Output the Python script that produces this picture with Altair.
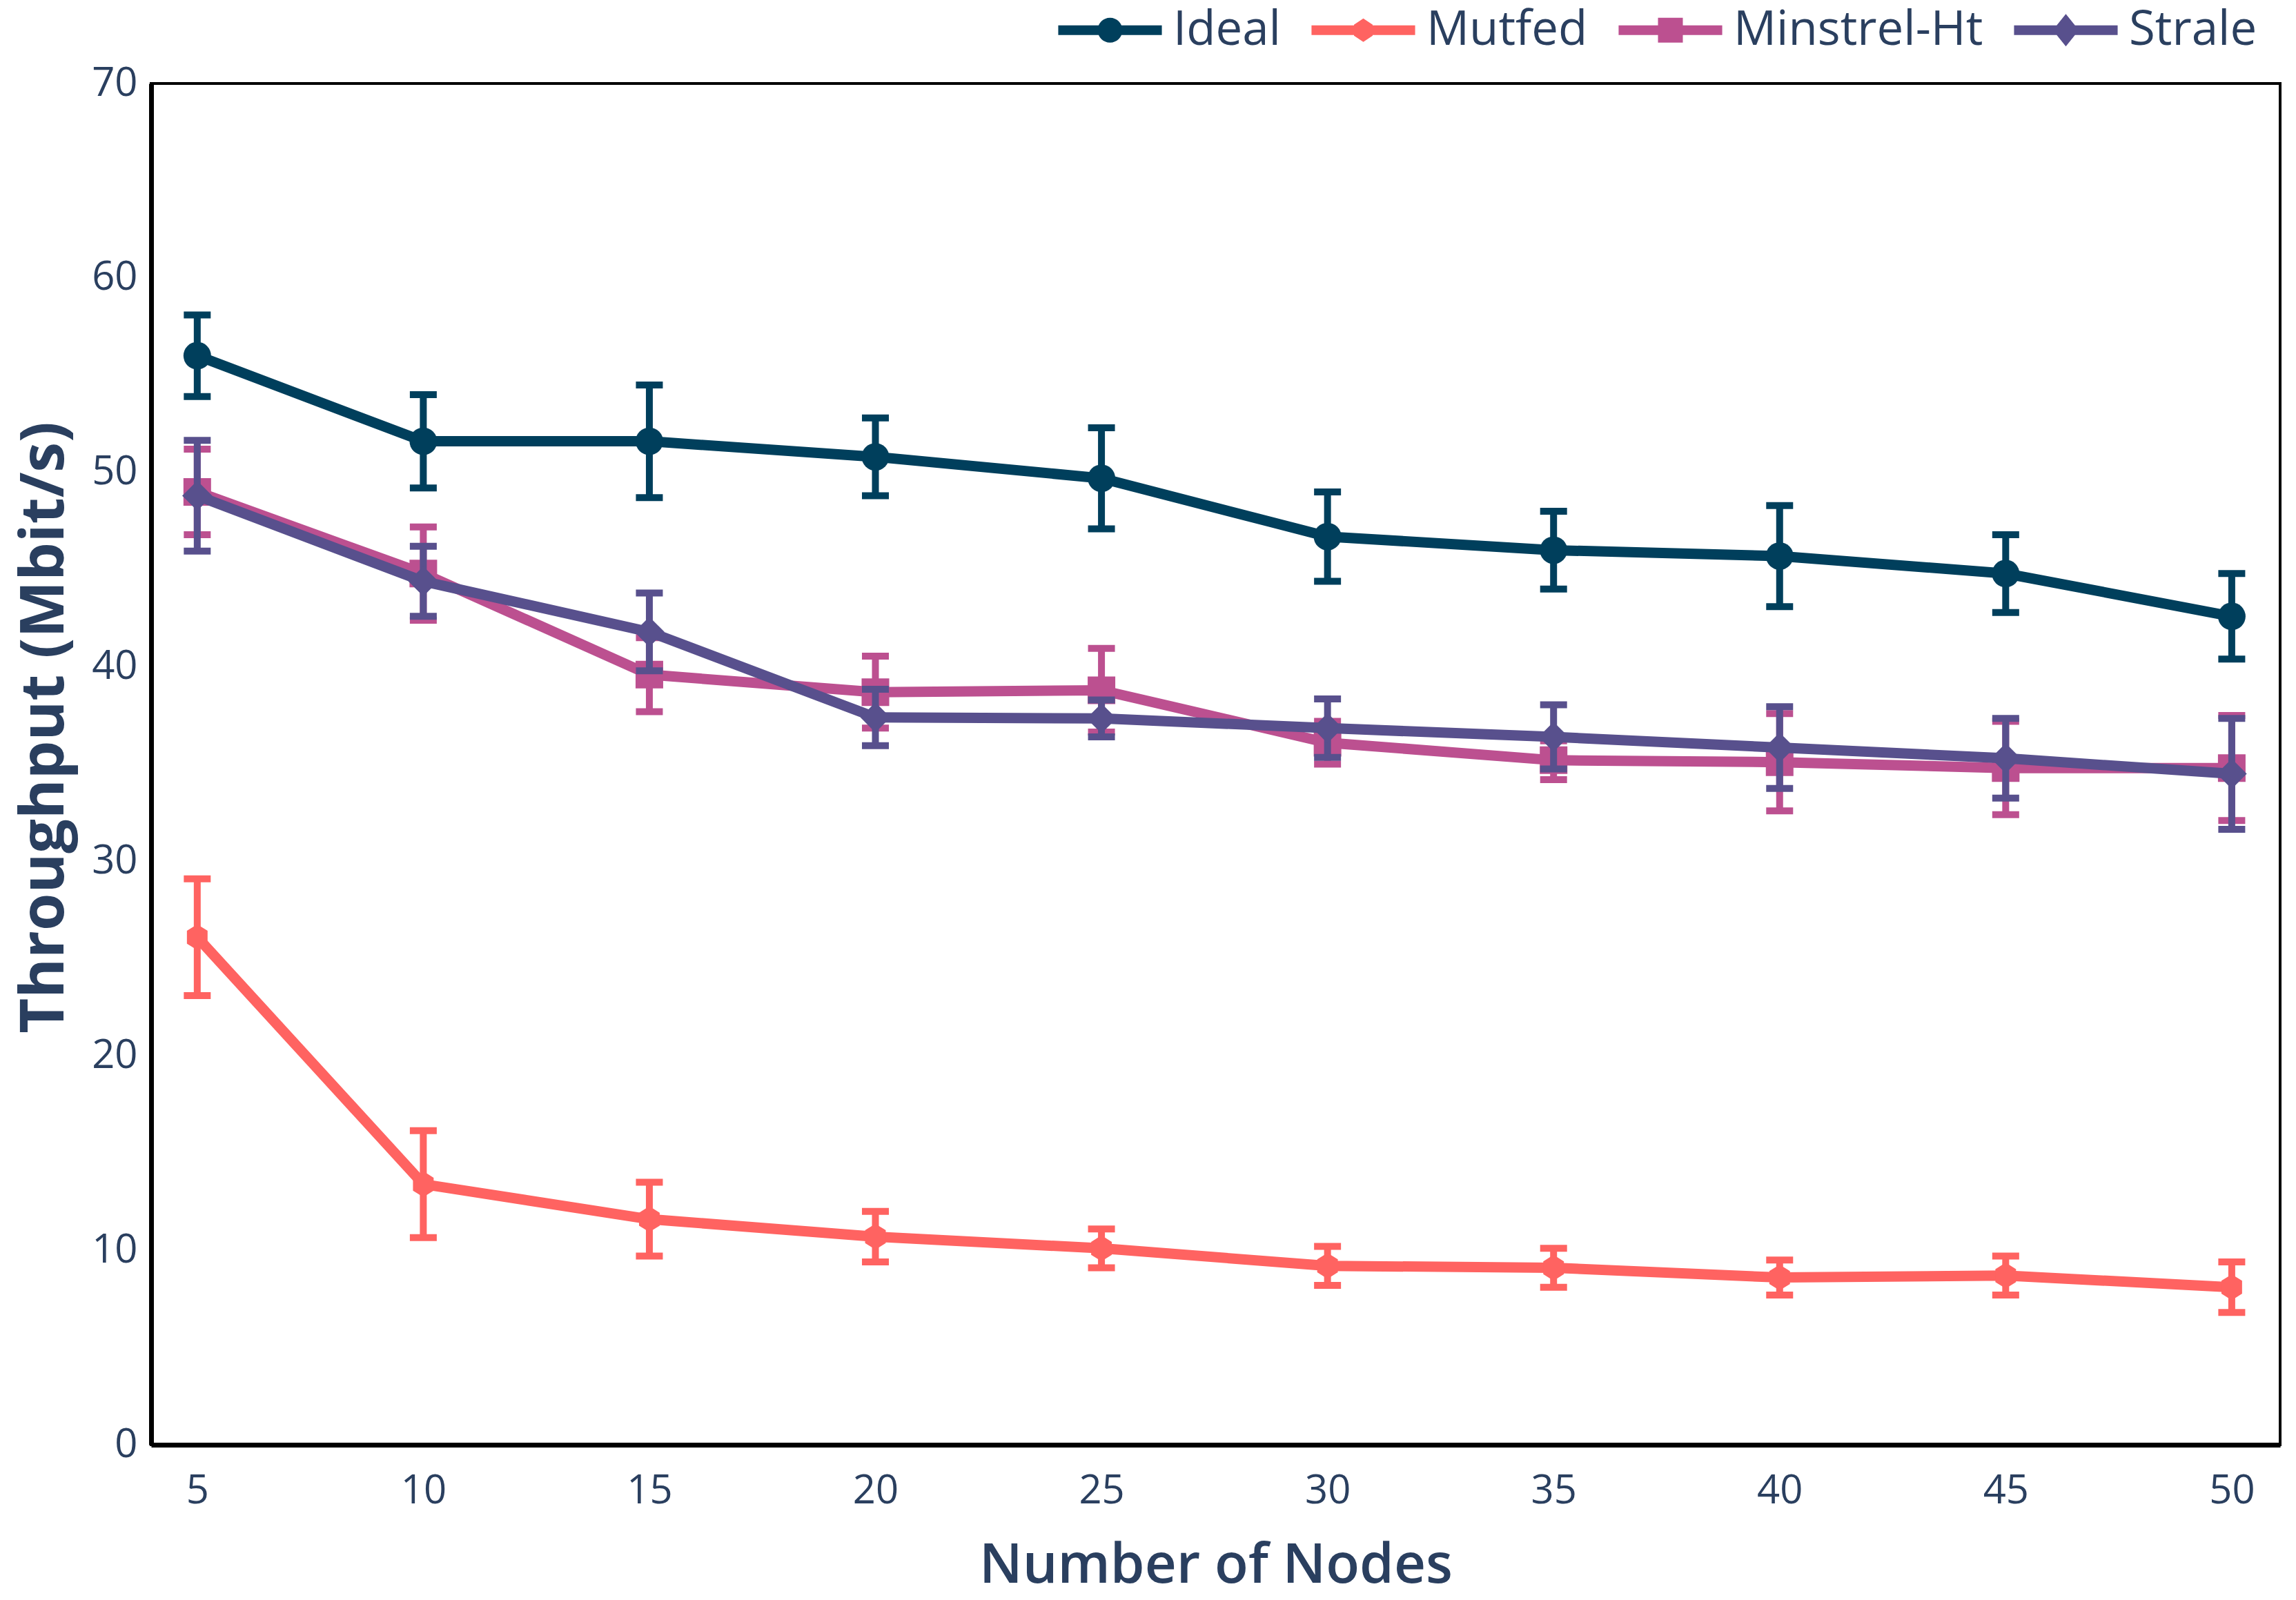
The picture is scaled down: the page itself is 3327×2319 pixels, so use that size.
import altair as alt
import pandas as pd

nodes = [5, 10, 15, 20, 25, 30, 35, 40, 45, 50]
series_names = ["Ideal", "Mutfed", "Minstrel-Ht", "Strale"]
colors = ["#003f5c", "#ff6361", "#bc5090", "#58508d"]

ideal = [56.0, 51.6, 51.6, 50.8, 49.7, 46.7, 46.0, 45.7, 44.8, 42.6]
ideal_err = [2.1, 2.4, 2.9, 2.0, 2.6, 2.3, 2.0, 2.6, 2.0, 2.2]
mutfed = [26.1, 13.4, 11.6, 10.7, 10.1, 9.2, 9.1, 8.6, 8.7, 8.1]
mutfed_err = [3.0, 2.75, 1.9, 1.3, 1.0, 1.0, 1.0, 0.9, 1.0, 1.3]
minstrel = [49.0, 44.8, 39.6, 38.7, 38.8, 36.1, 35.2, 35.1, 34.8, 34.8]
minstrel_err = [2.2, 2.4, 1.9, 1.85, 2.15, 1.1, 1.0, 2.5, 2.4, 2.7]
strale = [48.8, 44.4, 41.8, 37.4, 37.35, 36.85, 36.4, 35.85, 35.3, 34.5]
strale_err = [2.85, 1.8, 2.0, 1.45, 0.95, 1.5, 1.65, 2.1, 2.05, 2.85]

values = [ideal, mutfed, minstrel, strale]
errors = [ideal_err, mutfed_err, minstrel_err, strale_err]

HEX = "M0,-1L0.8,-0.5L0.8,0.5L0,1L-0.8,0.5L-0.8,-0.5Z"
marker_shapes = ["circle", HEX, "square", "diamond"]
marker_sizes = [1600, 1400, 1600, 1900]

LINE = "M-4.17,-0.39L4.17,-0.39L4.17,0.39L-4.17,0.39Z"
legend_paths = [
    LINE + "M1,0A1,1 0 1,1 -1,0A1,1 0 1,1 1,0Z",
    LINE + "M0,-0.95L0.75,-0.45L0.75,0.45L0,0.95L-0.75,0.45L-0.75,-0.45Z",
    LINE + "M-1,-1L1,-1L1,1L-1,1Z",
    LINE + "M0,-1.3L1.05,0L0,1.3L-1.05,0Z",
]

rows = []
for name, vals, errs in zip(series_names, values, errors):
    for x, v, e in zip(nodes, vals, errs):
        rows.append(dict(series=name, nodes=x, thr=v, lo=v - e, hi=v + e))
df = pd.DataFrame(rows)

FONT = "Open Sans"
TXT = "#2a3f5f"

xscale = alt.Scale(domain=[3.98, 51.07], nice=False, zero=False)
yscale = alt.Scale(domain=[0, 70], nice=False, zero=True)
xaxis = alt.Axis(values=nodes, title="Number of Nodes", grid=False, ticks=False,
                 labelFontSize=58, labelPadding=38, titleFontSize=80,
                 titleFontWeight=600, titlePadding=40, labelFlush=False)
yaxis = alt.Axis(values=list(range(0, 71, 10)), title="Throughput (Mbit/s)", grid=False,
                 ticks=False, labelFontSize=58, labelPadding=20, titleFontSize=88,
                 titleFontWeight="bold", titlePadding=23, titleY=933, labelFlush=False)


def X():
    return alt.X("nodes:Q", scale=xscale, axis=xaxis)


layers = []
for name, col, shp, sz in zip(series_names, colors, marker_shapes, marker_sizes):
    base = alt.Chart(df).transform_filter(alt.datum.series == name)
    err = base.mark_rule(color=col, strokeWidth=10, opacity=1).encode(
        x=X(), y=alt.Y("lo:Q", scale=yscale, axis=yaxis), y2="hi:Q")
    cap_hi = base.mark_tick(color=col, size=39, thickness=10, opacity=1,
                            orient="horizontal").encode(
        x=X(), y=alt.Y("hi:Q", scale=yscale, axis=yaxis))
    cap_lo = base.mark_tick(color=col, size=39, thickness=10, opacity=1,
                            orient="horizontal").encode(
        x=X(), y=alt.Y("lo:Q", scale=yscale, axis=yaxis))
    line = base.mark_line(color=col, strokeWidth=15).encode(
        x=X(), y=alt.Y("thr:Q", scale=yscale, axis=yaxis))
    pts = base.mark_point(color=col, filled=True, opacity=1, size=sz, shape=shp,
                          strokeWidth=0).encode(
        x=X(), y=alt.Y("thr:Q", scale=yscale, axis=yaxis))
    layers += [err, cap_hi, cap_lo, line, pts]

leg = alt.Legend(title=None, orient="none", legendX=1355, legendY=-112,
                 direction="horizontal", symbolSize=1296, symbolOpacity=1,
                 symbolStrokeWidth=0, labelFont=FONT, labelFontSize=69,
                 labelColor=TXT, labelOffset=57, columnPadding=44,
                 labelLimit=1000)
legend_layer = alt.Chart(df).mark_point(filled=True, opacity=0).encode(
    x=X(), y=alt.Y("thr:Q", scale=yscale, axis=yaxis),
    color=alt.Color("series:N", scale=alt.Scale(domain=series_names, range=colors), legend=leg),
    shape=alt.Shape("series:N", scale=alt.Scale(domain=series_names, range=legend_paths), legend=leg),
)

chart = alt.layer(*layers, legend_layer).properties(
    width=3085, height=1973,
    autosize=alt.AutoSizeParams(type="none"),
    padding={"left": 211, "top": 113, "right": 15, "bottom": 218},
).configure(font=FONT).configure_view(
    stroke="black", strokeWidth=4
).configure_axis(
    domainColor="black", domainWidth=7, labelColor=TXT, titleColor=TXT,
    labelFont=FONT, titleFont=FONT,
)

chart.save("out.html", embed_options={"renderer": "svg", "actions": False})
